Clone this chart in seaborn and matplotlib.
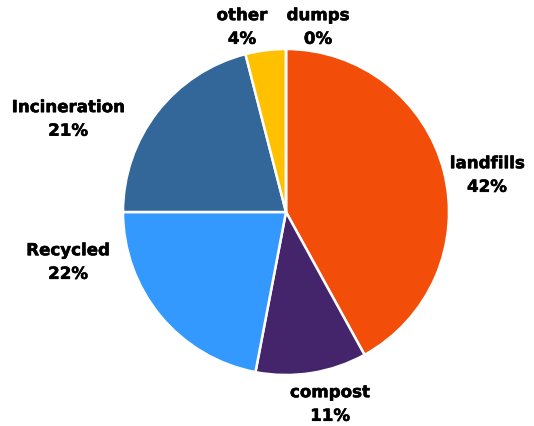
import matplotlib
matplotlib.use("Agg")
import matplotlib.pyplot as plt
import matplotlib.patheffects as pe
import seaborn as sns

sns.set_theme(style="white")
plt.rcParams["font.family"] = ["DejaVu Sans"]

# Waste destination shares (percent)
categories = ["landfills", "compost", "Recycled", "Incineration", "other", "dumps"]
shares = [42, 11, 22, 21, 4, 0]
colors = ["#F24E0A", "#44246A", "#3399FF", "#336699", "#FFC000", "#A5A5A5"]

# Label anchor points in axis units (pie radius = 1)
label_pos = [(1.233, 0.227), (0.27, -1.178), (-1.337, -0.307),
             (-1.337, 0.571), (-0.27, 1.135), (0.196, 1.135)]

fig = plt.figure(figsize=(5.34, 4.27), dpi=100)
ax = fig.add_axes([0, 0, 1, 1])
ax.pie(shares, colors=colors, startangle=90, counterclock=False, radius=1.0,
       wedgeprops=dict(edgecolor="white", linewidth=1.8))

for name, val, (x, y) in zip(categories, shares, label_pos):
    ax.text(x, y, f"{name}\n{val}%", ha="center", va="center",
            fontsize=12, fontweight="bold", color="black", linespacing=1.4,
            path_effects=[pe.withStroke(linewidth=0.4, foreground="black")])

ax.set_xlim(-286 / 163, (534 - 286) / 163)
ax.set_ylim((213 - 427) / 163, 213 / 163)
ax.set_aspect("equal")
ax.axis("off")

fig.savefig("out.png", dpi=100)
